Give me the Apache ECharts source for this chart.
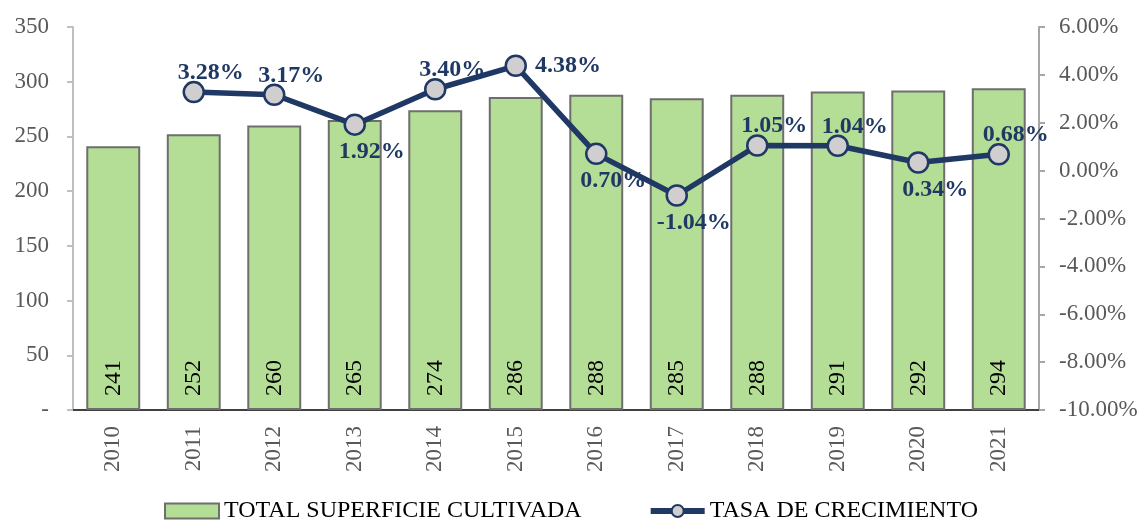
<!DOCTYPE html>
<html>
<head>
<meta charset="utf-8">
<script src="https://cdn.jsdelivr.net/npm/echarts@6/dist/echarts.min.js"></script>
<style>
  html, body { margin: 0; padding: 0; background: #fff; }
  #chart { width: 1142px; height: 522px; }
</style>
</head>
<body>
<div id="chart"></div>
<script>
// datos
const years = ['2010', '2011', '2012', '2013', '2014', '2015', '2016', '2017', '2018', '2019', '2020', '2021']
const superficie = [241, 252, 260, 265, 274, 286, 288, 285, 288, 291, 292, 294]
const tasa = [null, 3.28, 3.17, 1.92, 3.40, 4.38, 0.70, -1.04, 1.05, 1.04, 0.34, 0.68]
// donde va cada etiqueta de la tasa
const tasaPos = [null, 'top', 'top', 'bottom', 'top', 'right', 'bottom', 'bottom', 'top', 'top', 'bottom', 'top']

const serif = '"Liberation Serif", "Times New Roman", serif'
const navy = '#1f3864'

const labelOffset = pos => {
  if (pos === 'top') return [17, 4]
  if (pos === 'bottom') return [17, 4]
  return [8, 0]
}

const chart = echarts.init(document.getElementById('chart'))

const option = {
  animation: false,
  textStyle: { fontFamily: serif },
  grid: { left: 73, right: 103, top: 27, bottom: 112 },
  legend: {
    bottom: -6,
    left: 'center',
    itemGap: 66,
    itemWidth: 54,
    itemHeight: 15,
    textStyle: { fontFamily: serif, fontSize: 24, color: '#000' },
    data: [
      { name: 'TOTAL SUPERFICIE CULTIVADA', icon: 'rect' },
      { name: 'TASA DE CRECIMIENTO', lineStyle: { width: 6, color: navy } }
    ]
  },
  xAxis: {
    type: 'category',
    data: years,
    axisLine: { lineStyle: { color: '#404040', width: 2 } },
    axisTick: { inside: true, length: 6, lineStyle: { color: '#404040', width: 2 } },
    axisLabel: { rotate: 90, fontSize: 23, color: '#595959', margin: 16 }
  },
  yAxis: [
    {
      type: 'value',
      min: 0, max: 350, interval: 50,
      splitLine: { show: false },
      axisLine: { show: true, lineStyle: { color: '#bfbfbf', width: 2 } },
      axisTick: { show: true, length: 6, lineStyle: { color: '#bfbfbf', width: 2 } },
      axisLabel: {
        fontSize: 23, color: '#595959', margin: 24,
        formatter: v => v === 0 ? '-' : v
      }
    },
    {
      type: 'value',
      min: -10, max: 6, interval: 2,
      splitLine: { show: false },
      axisLine: { show: true, lineStyle: { color: '#a6a6a6', width: 2 } },
      axisTick: { show: true, length: 6, lineStyle: { color: '#a6a6a6', width: 2 } },
      axisLabel: {
        fontSize: 23, color: '#595959', margin: 20,
        formatter: v => v.toFixed(2) + '%'
      }
    }
  ],
  series: [
    {
      name: 'TOTAL SUPERFICIE CULTIVADA',
      type: 'bar',
      data: superficie,
      barWidth: '67%',
      itemStyle: { color: '#b4dd96', borderColor: '#6e6e6e', borderWidth: 2 },
      label: {
        show: true,
        position: 'insideBottom',
        rotate: 90,
        align: 'left',
        verticalAlign: 'middle',
        distance: 14,
        fontSize: 24,
        color: '#000'
      }
    },
    {
      name: 'TASA DE CRECIMIENTO',
      type: 'line',
      yAxisIndex: 1,
      data: tasa.map((v, i) => ({
        value: v,
        label: { position: tasaPos[i], offset: labelOffset(tasaPos[i]) }
      })),
      symbol: 'circle',
      symbolSize: 20,
      lineStyle: { color: navy, width: 5.5 },
      itemStyle: { color: '#d0cece', borderColor: navy, borderWidth: 2.5 },
      label: {
        show: true,
        fontSize: 24,
        fontWeight: 'bold',
        color: navy,
        distance: 0,
        formatter: p => p.value == null ? '' : p.value.toFixed(2) + '%'
      }
    }
  ]
}

chart.setOption(option)
</script>
</body>
</html>
